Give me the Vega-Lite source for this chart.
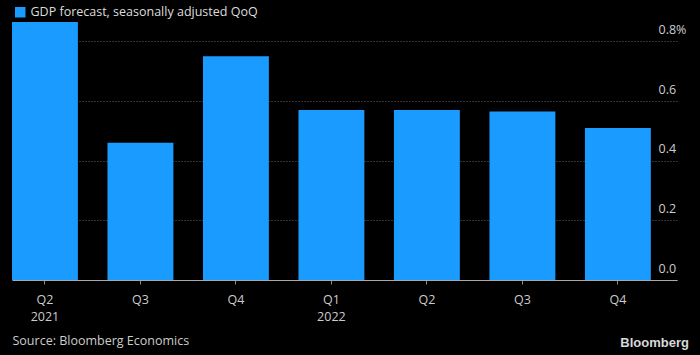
{
  "$schema": "https://vega.github.io/schema/vega-lite/v6.json",
  "width": 665,
  "height": 258,
  "autosize": "none",
  "padding": {"left": 12, "top": 22, "right": 23, "bottom": 75},
  "background": "#000000",
  "config": {
    "view": {"stroke": null},
    "font": "Open Sans",
    "axis": {"labelFont": "Open Sans", "titleFont": "Open Sans"},
    "legend": {"labelFont": "Open Sans"}
  },
  "title": {
    "text": "Bloomberg",
    "orient": "bottom",
    "anchor": "end",
    "font": "Liberation Sans",
    "fontSize": 13,
    "fontWeight": "bold",
    "color": "#d8d8d8",
    "offset": -10,
    "dx": 3
  },
  "data": {
    "values": [
      {"quarter": "Q2 2021", "value": 0.865},
      {"quarter": "Q3 2021", "value": 0.46},
      {"quarter": "Q4 2021", "value": 0.75},
      {"quarter": "Q1 2022", "value": 0.57},
      {"quarter": "Q2 2022", "value": 0.57},
      {"quarter": "Q3 2022", "value": 0.565},
      {"quarter": "Q4 2022", "value": 0.51}
    ]
  },
  "mark": {"type": "bar"},
  "encoding": {
    "x": {
      "field": "quarter",
      "type": "ordinal",
      "sort": null,
      "scale": {"paddingInner": 0.31, "paddingOuter": 0.137, "align": 0},
      "axis": {
        "title": "Source: Bloomberg Economics",
        "titleAnchor": "start",
        "titleAlign": "left",
        "titleColor": "#cccccc",
        "titleFontSize": 12.5,
        "titleFontWeight": "normal",
        "titlePadding": 12,
        "labelAngle": 0,
        "labelColor": "#cccccc",
        "labelFontSize": 12.5,
        "labelPadding": 9,
        "labelLineHeight": 17,
        "labelExpr": "(datum.label == 'Q2 2021' || datum.label == 'Q1 2022') ? split(datum.label, ' ') : split(datum.label, ' ')[0]",
        "domainColor": "#aaaaaa",
        "tickColor": "#888888",
        "tickSize": 4,
        "zindex": 1
      }
    },
    "y": {
      "field": "value",
      "type": "quantitative",
      "scale": {"domain": [0, 0.865], "nice": false},
      "axis": {
        "orient": "right",
        "title": null,
        "values": [0, 0.2, 0.4, 0.6, 0.8],
        "labelExpr": "datum.value == 0.8 ? '0.8%' : format(datum.value, '.1f')",
        "labelAlign": "left",
        "labelBaseline": "alphabetic",
        "labelPadding": -19,
        "labelOffset": -8,
        "labelColor": "#cccccc",
        "labelFontSize": 12.5,
        "domain": false,
        "ticks": false,
        "grid": true,
        "gridColor": "#666666",
        "gridDash": [1, 2],
        "gridWidth": 1
      }
    },
    "color": {
      "datum": "GDP forecast, seasonally adjusted QoQ",
      "type": "nominal",
      "scale": {"range": ["#1a9bff"]},
      "legend": {
        "title": null,
        "orient": "none",
        "legendX": 2,
        "legendY": -16,
        "symbolType": "square",
        "symbolSize": 110,
        "symbolStrokeWidth": 0,
        "labelColor": "#dddddd",
        "labelFontSize": 12.5,
        "labelOffset": 4,
        "labelLimit": 400
      }
    }
  }
}
